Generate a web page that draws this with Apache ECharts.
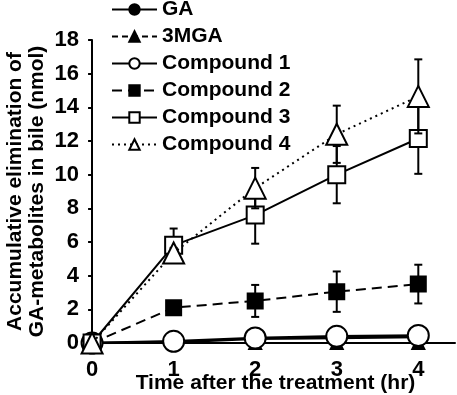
<!DOCTYPE html>
<html>
<head>
<meta charset="utf-8">
<script src="https://cdn.jsdelivr.net/npm/echarts@6/dist/echarts.min.js"></script>
<style>html,body{margin:0;padding:0;background:#fff}#c{width:457px;height:395px}</style>
</head>
<body>
<div id="c"></div>
<script>
var hours = [0, 1, 2, 3, 4];
var xTicks = [0, 1, 2, 3, 4];
var yTicks = [0, 2, 4, 6, 8, 10, 12, 14, 16, 18];
var gaMean = [0, 0.05, 0.25, 0.3, 0.35];
var mgaMean = [0, 0, 0, 0, 0];
var c1Mean = [0, 0.1, 0.3, 0.4, 0.45];
var c2Mean = [0, 2.1, 2.5, 3.05, 3.5];
var c2Sd = [0, 0.35, 0.95, 1.2, 1.15];
var c3Mean = [0, 5.8, 7.6, 10.0, 12.15];
var c3Sd = [0, 1.0, 1.7, 1.7, 2.1];
var c4Mean = [0, 5.35, 9.2, 12.4, 14.65];
var c4Sd = [0, 0.3, 1.2, 1.7, 2.2];
var names = ['GA', '3MGA', 'Compound 1', 'Compound 2', 'Compound 3', 'Compound 4'];

function pts(m) { return hours.map(function (h, i) { return [h, m[i]]; }); }
function errPts(m, s) { return hours.map(function (h, i) { return [h, m[i], s[i]]; }); }

var FONT = 'Liberation Sans, Arial, sans-serif';

function errSeries(m, s, z) {
  return {
    type: 'custom',
    z: z,
    silent: true,
    data: errPts(m, s),
    encode: { x: 0, y: 1 },
    renderItem: function (params, api) {
      var x = api.value(0), mu = api.value(1), sd = api.value(2);
      if (!sd) return null;
      var top = api.coord([x, mu + sd]);
      var bot = api.coord([x, mu - sd]);
      var cw = 4;
      var st = { stroke: '#000', lineWidth: 2, fill: null };
      return {
        type: 'group',
        children: [
          { type: 'line', shape: { x1: top[0], y1: top[1], x2: bot[0], y2: bot[1] }, style: st },
          { type: 'line', shape: { x1: top[0] - cw, y1: top[1], x2: top[0] + cw, y2: top[1] }, style: st },
          { type: 'line', shape: { x1: bot[0] - cw, y1: bot[1], x2: bot[0] + cw, y2: bot[1] }, style: st }
        ]
      };
    }
  };
}

function lineSeries(name, m, symbol, size, filled, dash, z, lw) {
  return {
    name: name,
    type: 'line',
    z: z,
    data: pts(m),
    symbol: symbol,
    symbolSize: size,
    showAllSymbol: true,
    lineStyle: { color: '#000', width: lw || 2, type: dash },
    itemStyle: { color: filled ? '#000' : '#fff', borderColor: '#000', borderWidth: 2, opacity: 1 },
    emphasis: { disabled: true },
    animation: false
  };
}

var chart = echarts.init(document.getElementById('c'), null, { renderer: 'canvas' });
chart.setOption({
  backgroundColor: '#fff',
  animation: false,
  legend: {
    orient: 'vertical',
    left: 106,
    top: -6,
    itemWidth: 45,
    itemHeight: 13,
    itemGap: 6,
    data: names,
    textStyle: { fontFamily: FONT, fontWeight: 'bold', fontSize: 21, color: '#000', lineHeight: 19 }
  },
  grid: { left: 88, right: 2, top: 40, bottom: 52, outerBoundsMode: 'none', containLabel: false },
  xAxis: {
    type: 'value',
    min: -0.05,
    max: 4.45,
    splitLine: { show: false },
    axisLine: { lineStyle: { color: '#000', width: 2 } },
    axisTick: { show: false },
    axisLabel: { customValues: xTicks, margin: 16, color: '#000', fontFamily: FONT, fontWeight: 'bold', fontSize: 22 },
    name: 'Time after the treatment (hr)',
    nameLocation: 'middle',
    nameGap: 30,
    nameMoveOverlap: false,
    nameTextStyle: { color: '#000', fontFamily: FONT, fontWeight: 'bold', fontSize: 21, padding: [0, 0, 0, 8] }
  },
  yAxis: {
    type: 'value',
    min: 0,
    max: 18,
    interval: 2,
    splitLine: { show: false },
    axisLine: { show: true, lineStyle: { color: '#000', width: 2 } },
    axisTick: { show: true, inside: false, length: 4, lineStyle: { color: '#000', width: 2 } },
    axisLabel: { margin: 9, color: '#000', fontFamily: FONT, fontWeight: 'bold', fontSize: 22,
      formatter: function (v) { return yTicks.indexOf(v) >= 0 ? String(v) : ''; } },
    name: 'Accumulative elimination of\nGA-metabolites in bile (nmol)',
    nameLocation: 'middle',
    nameRotate: 90,
    nameGap: 40,
    nameMoveOverlap: false,
    nameTextStyle: { color: '#000', fontFamily: FONT, fontWeight: 'bold', fontSize: 21, lineHeight: 22 }
  },
  series: [
    lineSeries('GA', gaMean, 'circle', 10, true, 'solid', 2, 2.5),
    lineSeries('3MGA', mgaMean, 'triangle', 12, true, [6, 4], 3, 2),
    lineSeries('Compound 1', c1Mean, 'circle', 21, false, 'solid', 4, 2.5),
    errSeries(c2Mean, c2Sd, 5),
    lineSeries('Compound 2', c2Mean, 'rect', 15, true, [10, 6], 6, 2),
    errSeries(c3Mean, c3Sd, 7),
    lineSeries('Compound 3', c3Mean, 'rect', 17, false, 'solid', 8, 2),
    errSeries(c4Mean, c4Sd, 9),
    lineSeries('Compound 4', c4Mean, 'triangle', 21, false, [2, 4], 10, 2)
  ]
});
</script>
</body>
</html>
